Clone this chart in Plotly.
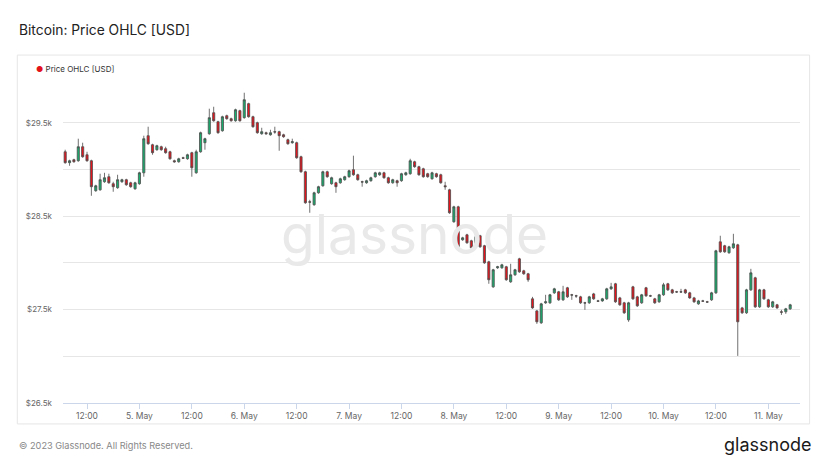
import pandas as pd
import plotly.graph_objects as go

# hourly BTC candles, 4 May 07:00 -> 11 May 05:00
open_ = [29189, 29072, 29104, 29093, 29243, 29157, 29093, 28772, 28782, 28868,
         28922, 28847, 28804, 28868, 28890, 28857, 28793, 28847, 28964, 29361,
         29264, 29211, 29243, 29222, 29189, 29093, 29082, 29125, 29114, 29179,
         28964, 29189, 29286, 29382, 29607, 29511, 29414, 29575, 29543, 29521,
         29629, 29554, 29704, 29564, 29500, 29382, 29393, 29371, 29404, 29404,
         29371, 29318, 29286, 29286, 29136, 28975, 28654, 28622, 28750, 28825,
         28975, 28847, 28857, 28857, 28890, 28922, 28997, 28943, 28868, 28857,
         28879, 28922, 28943, 28964, 28911, 28857, 28879, 28879, 28943, 28954,
         29082, 29029, 29007, 28954, 28900, 28954, 28943, 28825, 28782, 28440,
         28600, 28247, 28300, 28236, 28172, 28290, 28183, 28011, 27743, 27947,
         27947, 27958, 27797, 27872, 28043, 27915, 27883, 27615, 27486, 27358,
         27572, 27572, 27679, 27690, 27604, 27733, 27658, 27647, 27636, 27572,
         27572, 27668, 27593, 27593, 27615, 27722, 27776, 27625, 27572, 27390,
         27743, 27636, 27572, 27733, 27647, 27615, 27583, 27658, 27776, 27711,
         27690, 27690, 27711, 27679, 27625, 27561, 27593, 27583, 27604, 27679,
         28225, 28183, 28108, 28161, 28193, 27518, 27465, 27711, 27840, 27529,
         27711, 27604, 27529, 27551, 27476, 27476, 27508]

high = [29211, 29104, 29114, 29329, 29286, 29189, 29104, 28836, 28954, 28964,
        28954, 28868, 28943, 28900, 28900, 28868, 28868, 28975, 29361, 29457,
        29275, 29264, 29254, 29243, 29200, 29104, 29125, 29136, 29168, 29189,
        29211, 29404, 29339, 29650, 29671, 29521, 29575, 29586, 29554, 29650,
        29639, 29821, 29714, 29575, 29511, 29446, 29404, 29425, 29457, 29414,
        29382, 29329, 29329, 29297, 29147, 28986, 28675, 28761, 28825, 28986,
        28986, 28922, 28868, 28911, 28932, 28997, 29147, 28954, 28879, 28890,
        28922, 28975, 28975, 28975, 28922, 28900, 28890, 28964, 28975, 29114,
        29093, 29039, 29018, 28964, 28975, 28964, 28954, 28868, 28793, 28611,
        28611, 28279, 28311, 28247, 28290, 28300, 28193, 28022, 27936, 27968,
        27990, 27968, 27990, 27936, 28054, 27926, 27893, 27636, 27497, 27572,
        27658, 27668, 27733, 27700, 27754, 27743, 27668, 27658, 27647, 27583,
        27647, 27679, 27604, 27625, 27733, 27786, 27786, 27636, 27583, 27583,
        27754, 27647, 27668, 27743, 27658, 27625, 27668, 27786, 27786, 27722,
        27700, 27722, 27722, 27690, 27636, 27604, 27604, 27593, 27690, 28140,
        28290, 28193, 28183, 28311, 28204, 27529, 27722, 27936, 27851, 27722,
        27722, 27615, 27593, 27561, 27497, 27518, 27561]

low = [29061, 29039, 29072, 29082, 29125, 29082, 28718, 28761, 28772, 28857,
       28847, 28761, 28793, 28857, 28825, 28804, 28782, 28836, 28922, 29264,
       29157, 29200, 29200, 29168, 29104, 29072, 29072, 29114, 29104, 28922,
       28954, 29179, 29211, 29371, 29511, 29382, 29404, 29532, 29511, 29511,
       29511, 29543, 29554, 29446, 29382, 29371, 29371, 29361, 29382, 29200,
       29339, 29264, 29275, 29114, 28964, 28632, 28536, 28611, 28740, 28815,
       28911, 28836, 28750, 28847, 28879, 28911, 28932, 28879, 28815, 28847,
       28868, 28911, 28932, 28900, 28847, 28847, 28815, 28868, 28932, 28943,
       29018, 28932, 28911, 28911, 28890, 28911, 28847, 28782, 28525, 28429,
       28161, 28236, 28204, 28150, 28161, 28161, 27990, 27776, 27733, 27936,
       27936, 27808, 27786, 27861, 27893, 27872, 27797, 27508, 27347, 27347,
       27561, 27561, 27668, 27593, 27593, 27625, 27604, 27625, 27561, 27497,
       27561, 27604, 27583, 27583, 27604, 27711, 27572, 27540, 27454, 27369,
       27604, 27529, 27561, 27636, 27636, 27561, 27572, 27647, 27700, 27668,
       27679, 27679, 27668, 27615, 27572, 27551, 27583, 27572, 27593, 27668,
       28108, 28108, 28097, 28150, 27004, 27454, 27454, 27700, 27518, 27518,
       27604, 27518, 27518, 27508, 27443, 27454, 27497]

close = [29072, 29093, 29082, 29243, 29136, 29093, 28815, 28825, 28890, 28911,
         28857, 28815, 28890, 28890, 28836, 28815, 28857, 28964, 29329, 29275,
         29179, 29254, 29211, 29179, 29114, 29082, 29114, 29120, 29157, 29018,
         29189, 29393, 29329, 29554, 29521, 29393, 29564, 29543, 29521, 29639,
         29521, 29746, 29564, 29457, 29393, 29404, 29382, 29393, 29400, 29361,
         29350, 29275, 29297, 29125, 28975, 28643, 28650, 28750, 28815, 28975,
         28922, 28911, 28815, 28900, 28922, 28986, 28943, 28890, 28865, 28879,
         28911, 28964, 28964, 28911, 28857, 28890, 28857, 28954, 28964, 29093,
         29029, 28943, 28922, 28922, 28964, 28922, 28857, 28815, 28536, 28600,
         28172, 28268, 28215, 28161, 28279, 28172, 28000, 27819, 27926, 27958,
         27979, 27819, 27872, 27926, 27904, 27883, 27819, 27518, 27369, 27561,
         27583, 27658, 27722, 27604, 27690, 27636, 27655, 27645, 27572, 27570,
         27636, 27615, 27590, 27615, 27722, 27743, 27583, 27551, 27465, 27572,
         27615, 27540, 27658, 27647, 27645, 27572, 27658, 27765, 27711, 27679,
         27688, 27688, 27679, 27625, 27583, 27593, 27590, 27580, 27679, 28129,
         28118, 28118, 28172, 28204, 27369, 27465, 27711, 27893, 27529, 27711,
         27615, 27529, 27583, 27518, 27472, 27508, 27551]

times = pd.date_range("2023-05-04 07:00", periods=len(close), freq="h")

# axis ticks
y_ticks = [26500, 27000, 27500, 28000, 28500, 29000, 29500, 30000]
y_labels = ["$26.5k", "", "$27.5k", "", "$28.5k", "", "$29.5k", ""]
x_ticks = pd.date_range("2023-05-04 12:00", "2023-05-11 00:00", freq="12h")
x_labels = ["12:00" if t.hour == 12 else f"{t.day}. May" for t in x_ticks]

FONT = "Inter, Roboto, sans-serif"
GREEN = "#19ad6e"
RED = "#e5141c"
EDGE = "#4d4d4d"

fig = go.Figure()

# watermark first so the candles sit on top of it
fig.add_trace(go.Scatter(
    x=[pd.Timestamp("2023-05-07 15:00")], y=[28240], mode="text",
    text=["glassnode"], textfont=dict(family=FONT, size=55, color="#e9e9e9"),
    hoverinfo="skip", showlegend=False,
))

fig.add_trace(go.Candlestick(
    x=times, open=open_, high=high, low=low, close=close,
    name="Price OHLC [USD]",
    increasing=dict(fillcolor=GREEN, line=dict(color=EDGE, width=0.8)),
    decreasing=dict(fillcolor=RED, line=dict(color=EDGE, width=0.8)),
    showlegend=False,
))

# page body adds 8px on the left/top, so the figure is trimmed to match
fig.update_layout(
    width=816, height=452,
    margin=dict(l=55, r=24, t=68, b=57),
    paper_bgcolor="white", plot_bgcolor="white",
    font=dict(family=FONT, size=9, color="#666666"),
    showlegend=False,
    xaxis=dict(
        rangeslider=dict(visible=False),
        range=[pd.Timestamp("2023-05-04 06:30"), pd.Timestamp("2023-05-11 07:15")],
        tickvals=x_ticks, ticktext=x_labels,
        showgrid=False, showline=True, linecolor="#ccd6eb", linewidth=1,
        ticks="outside", ticklen=5, tickcolor="#ccd6eb",
        tickfont=dict(size=8.5, color="#666666"),
    ),
    yaxis=dict(
        range=[26500, 30000],
        tickvals=y_ticks, ticktext=y_labels,
        showgrid=True, gridcolor="#e6e6e6", gridwidth=1,
        zeroline=False, showline=False,
        ticklabelstandoff=10,
        tickfont=dict(size=8, color="#666666"),
    ),
    shapes=[dict(
        type="rect", xref="paper", yref="paper",
        x0=-0.062, x1=1.013, y0=-0.064, y1=1.064,
        line=dict(color="#e6e6e6", width=1), fillcolor="rgba(0,0,0,0)",
        layer="below",
    )],
    annotations=[
        dict(text="Bitcoin: Price OHLC [USD]", xref="paper", yref="paper",
             x=-0.062, y=1.141, xanchor="left", yanchor="middle", showarrow=False,
             font=dict(family=FONT, size=13.8, color="#222222")),
        dict(text="<span style='color:#e3131b'>●</span> Price OHLC [USD]",
             xref="paper", yref="paper", x=-0.040, y=1.021,
             xanchor="left", yanchor="middle", showarrow=False,
             font=dict(family=FONT, size=8, color="#333333")),
        dict(text="© 2023 Glassnode. All Rights Reserved.", xref="paper", yref="paper",
             x=-0.062, y=-0.131, xanchor="left", yanchor="middle", showarrow=False,
             font=dict(family=FONT, size=9.2, color="#888888")),
        dict(text="glassnode", xref="paper", yref="paper",
             x=1.018, y=-0.128, xanchor="right", yanchor="middle", showarrow=False,
             font=dict(family=FONT, size=18, color="#1a1a1a")),
    ],
)

fig.write_html("out.html")
